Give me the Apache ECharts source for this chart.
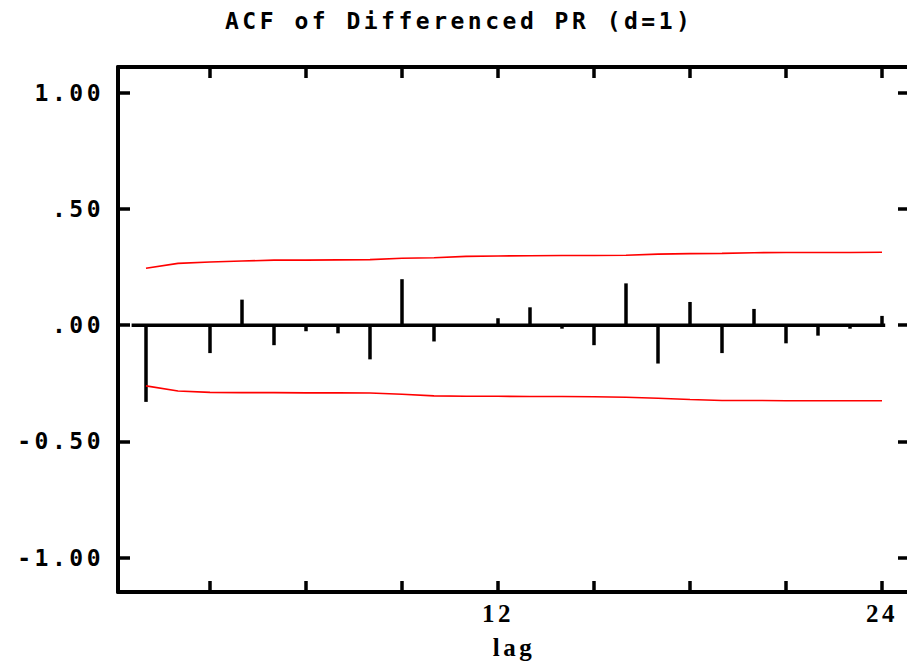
<!DOCTYPE html>
<html>
<head>
<meta charset="utf-8">
<title>ACF of Differenced PR</title>
<script src="https://cdn.jsdelivr.net/npm/echarts@6/dist/echarts.min.js"></script>
<style>
    html, body { margin: 0; padding: 0; background: #ffffff; }
    #acf { width: 907px; height: 668px; }
    /* old plotting fonts are wide, spread the letters out a little */
    #acf text { letter-spacing: 3.5px; }
</style>
</head>
<body>
<div id="acf"></div>
<script>
// lags 1..24
var lags = [1, 2, 3, 4, 5, 6, 7, 8, 9, 10, 11, 12, 13, 14, 15, 16, 17, 18, 19, 20, 21, 22, 23, 24];
// autocorrelations
var acf = [-0.33, 0, -0.12, 0.11, -0.086, -0.026, -0.035, -0.147, 0.198, -0.07, 0, 0.03,
    0.077, -0.015, -0.086, 0.18, -0.165, 0.10, -0.12, 0.07, -0.078, -0.045, -0.015, 0.04];
// confidence limits (red)
var upper = [0.245, 0.266, 0.272, 0.276, 0.280, 0.280, 0.281, 0.282, 0.288, 0.290, 0.296, 0.298,
    0.299, 0.300, 0.300, 0.301, 0.306, 0.308, 0.309, 0.312, 0.313, 0.313, 0.313, 0.314];
var lower = [-0.261, -0.283, -0.289, -0.290, -0.290, -0.291, -0.291, -0.292, -0.297, -0.304, -0.306, -0.306,
    -0.307, -0.307, -0.308, -0.310, -0.314, -0.320, -0.324, -0.324, -0.325, -0.325, -0.325, -0.325];
// zero reference line runs from just right of the axis to the last lag
var zeroSpan = [0.55, 24.1];

var xTickValues = [3, 6, 9, 12, 15, 18, 21, 24];
var xLabelValues = [12, 24];
var yTickValues = [-1, -0.5, 0, 0.5, 1];
var yTickLabels = ['-1.00', '-0.50', '.00', '.50', '1.00'];

var monoFont = 'DejaVu Sans Mono';
var serifFont = 'Liberation Serif';

(function () {
    var chart = echarts.init(document.getElementById('acf'), null, {renderer: 'svg'});

    var spikes = [];
    var up = [];
    var low = [];
    for (var i = 0, l = lags.length; i < l; i++) {
        spikes.push([lags[i], acf[i]]);
        up.push([lags[i], upper[i]]);
        low.push([lags[i], lower[i]]);
    }
    var zero = [[zeroSpan[0], 0], [zeroSpan[1], 0]];

    var frameLine = {show: true, onZero: false, lineStyle: {color: '#000', width: 4}};
    var xTick = {show: true, inside: true, length: 11, customValues: xTickValues,
        lineStyle: {color: '#000', width: 3.5}};
    var yTick = {show: true, inside: true, length: 12, customValues: yTickValues,
        lineStyle: {color: '#000', width: 3.5}};

    var option = {
        animation: false,
        backgroundColor: '#fff',
        title: {
            text: 'ACF of Differenced PR (d=1)',
            left: 225,
            top: 9,
            padding: 0,
            textStyle: {fontFamily: monoFont, fontWeight: 'bold', fontSize: 23, color: '#000'}
        },
        // the right frame sits just outside the picture
        grid: {left: 118, top: 67, width: 792, height: 525, outerBoundsMode: 'none'},
        xAxis: [
            {
                type: 'value',
                position: 'bottom',
                min: 0.125,
                max: 24.875,
                axisLine: frameLine,
                axisTick: xTick,
                splitLine: {show: false},
                axisLabel: {
                    customValues: xLabelValues,
                    margin: 9,
                    fontFamily: serifFont,
                    fontWeight: 'bold',
                    fontSize: 25,
                    color: '#000'
                },
                name: 'lag',
                nameLocation: 'middle',
                nameGap: 43,
                nameTextStyle: {fontFamily: serifFont, fontWeight: 'bold', fontSize: 25, color: '#000'}
            },
            {
                type: 'value',
                position: 'top',
                min: 0.125,
                max: 24.875,
                axisLine: frameLine,
                axisTick: xTick,
                splitLine: {show: false},
                axisLabel: {show: false}
            }
        ],
        yAxis: [
            {
                type: 'value',
                position: 'left',
                min: -1.148,
                max: 1.111,
                axisLine: frameLine,
                axisTick: yTick,
                splitLine: {show: false},
                axisLabel: {
                    customValues: yTickValues,
                    margin: 14,
                    fontFamily: monoFont,
                    fontWeight: 'bold',
                    fontSize: 23,
                    color: '#000',
                    formatter: function (v) {
                        var k = yTickValues.indexOf(v);
                        return k >= 0 ? yTickLabels[k] : '';
                    }
                }
            },
            {
                type: 'value',
                position: 'right',
                min: -1.148,
                max: 1.111,
                axisLine: frameLine,
                axisTick: yTick,
                splitLine: {show: false},
                axisLabel: {show: false}
            }
        ],
        series: [
            {
                name: 'zero',
                type: 'line',
                data: zero,
                symbol: 'none',
                lineStyle: {color: '#000', width: 3.5}
            },
            {
                name: 'acf',
                type: 'bar',
                data: spikes,
                barWidth: 3.5,
                itemStyle: {color: '#000'}
            },
            {
                name: 'upper',
                type: 'line',
                data: up,
                symbol: 'none',
                lineStyle: {color: '#ff0000', width: 1.6}
            },
            {
                name: 'lower',
                type: 'line',
                data: low,
                symbol: 'none',
                lineStyle: {color: '#ff0000', width: 1.6}
            }
        ]
    };
    chart.setOption(option);
}());
</script>
</body>
</html>
